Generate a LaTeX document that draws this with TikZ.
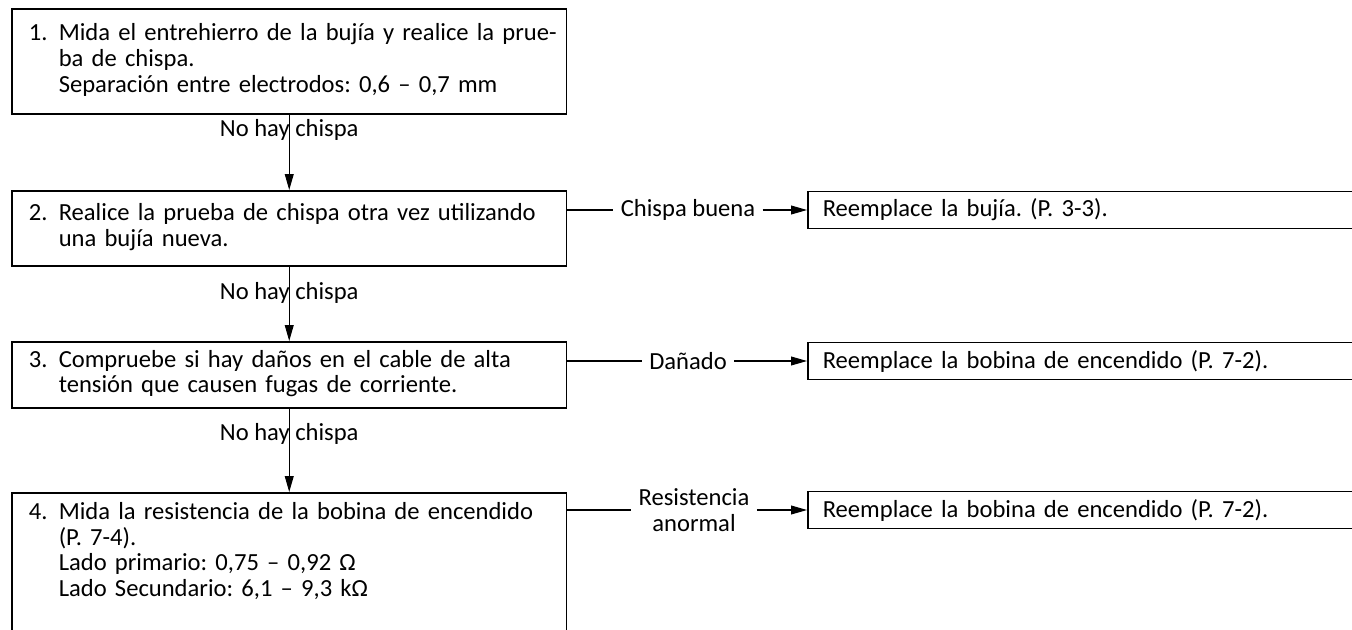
\documentclass[tikz,border=0pt]{standalone}
\usepackage{fontspec}
\setmainfont{Carlito}
\usetikzlibrary{arrows.meta}
\frenchspacing

\newcommand{\paso}[2]{\begin{tabular}{@{}p{0.6cm}@{}l@{}}#1 & #2\end{tabular}}

\begin{document}
\begin{tikzpicture}[x=0.02cm,y=-0.02cm,font=\fontsize{14}{14.6}\selectfont,
  caja/.style={draw,line width=0.9pt,anchor=north west,text width=10.42cm,inner xsep=0.34cm,inner ysep=0pt,align=left},
  accion/.style={draw,line width=0.9pt,anchor=west,text width=12cm,minimum height=0.74cm,inner xsep=0.3cm,align=left},
  etiqueta/.style={inner xsep=4pt,inner ysep=1pt,align=center},
  linea/.style={line width=0.6pt},
  flecha/.style={line width=0.6pt,-{Triangle[length=9pt,width=5pt]}}]
 \useasboundingbox (0,0) rectangle (1352,629);
 \clip (0,0) rectangle (1352,629);
 % pasos de la izquierda
 \node[caja,minimum height=2.1cm] (paso1) at (11,8) {\paso{1.}{Mida el entrehierro de la bujía y realice la prue-\\ & ba de chispa.\\ & Separación entre electrodos: 0,6 – 0,7 mm}};
 \node[caja,minimum height=1.5cm] (paso2) at (11,190) {\paso{2.}{Realice la prueba de chispa otra vez utilizando\\ & una bujía nueva.}};
 \node[caja,minimum height=1.32cm] (paso3) at (11,341) {\paso{3.}{Compruebe si hay daños en el cable de alta\\ & tensión que causen fugas de corriente.}};
 \node[caja,inner ysep=5pt,text depth=2.5cm] (paso4) at (11,492) {\paso{4.}{Mida la resistencia de la bobina de encendido\\ & (P. 7-4).\\ & Lado primario: 0,75 – 0,92 Ω\\ & Lado Secundario: 6,1 – 9,3 kΩ}};
 \draw[flecha] (paso1) -- node[pos=0.2,name=nohay1] {No hay chispa} (paso2);
 \draw[flecha] (paso2) -- node[pos=0.35,name=nohay2] {No hay chispa} (paso3);
 \draw[flecha] (paso3) -- node[pos=0.3,name=nohay3] {No hay chispa} (paso4);
 % acciones de la derecha
 \node[etiqueta] (chispa) at (688,210) {Chispa buena};
 \node[accion] (bujia) at (807,210) {Reemplace la bujía. (P. 3-3).};
 \node[etiqueta] (danado) at (688,361) {Dañado};
 \node[accion] (bobina1) at (807,361) {Reemplace la bobina de encendido (P. 7-2).};
 \node[etiqueta] (resist) at (694,510) {Resistencia\\anormal};
 \node[accion] (bobina2) at (807,510) {Reemplace la bobina de encendido (P. 7-2).};
 \draw[linea] (paso2.east |- chispa.west) -- (chispa.west);
 \draw[flecha] (chispa.east) -- (bujia.west);
 \draw[linea] (paso3.east |- danado.west) -- (danado.west);
 \draw[flecha] (danado.east) -- (bobina1.west);
 \draw[linea] (paso4.east |- resist.west) -- (resist.west);
 \draw[flecha] (resist.east) -- (bobina2.west);
\end{tikzpicture}
\end{document}
